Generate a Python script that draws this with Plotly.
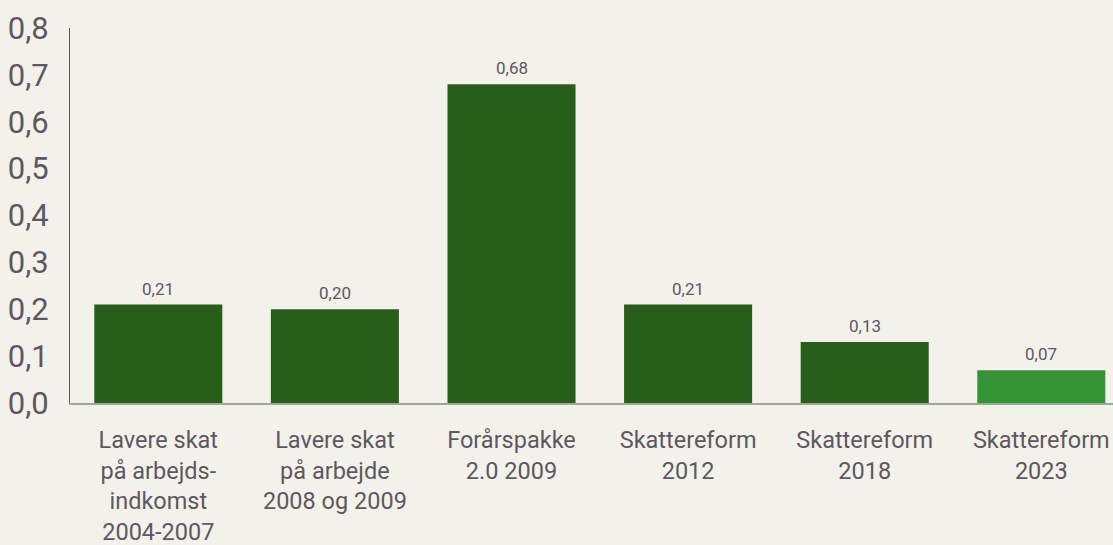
import plotly.graph_objects as go

categories = [
    "Lavere skat<br>på arbejds-<br>indkomst<br>2004-2007",
    "Lavere skat<br>på arbejde<br>2008 og 2009",
    "Forårspakke<br>2.0 2009",
    "Skattereform<br>2012",
    "Skattereform<br>2018",
    "Skattereform<br>2023",
]
values = [0.21, 0.20, 0.68, 0.21, 0.13, 0.07]
value_labels = ["0,21", "0,20", "0,68", "0,21", "0,13", "0,07"]
bar_colors = ["#275e1a", "#275e1a", "#275e1a", "#275e1a", "#275e1a", "#339433"]
y_ticks = [0, 0.1, 0.2, 0.3, 0.4, 0.5, 0.6, 0.7, 0.8]

text_color = "#5e5761"
font_family = "Roboto, DejaVu Sans, sans-serif"

fig = go.Figure()
fig.add_trace(go.Bar(
    x=list(range(len(categories))),
    y=values,
    marker=dict(color=bar_colors, line=dict(width=0)),
    hoverinfo="skip",
))

for i, (v, lab) in enumerate(zip(values, value_labels)):
    fig.add_annotation(
        x=i, y=v, text=lab, showarrow=False,
        yanchor="bottom", yshift=4,
        font=dict(size=17, color=text_color, family=font_family),
    )

fig.update_layout(
    width=1113, height=545,
    margin=dict(l=70, r=0, t=28, b=142, autoexpand=False),
    paper_bgcolor="#f3f2ea",
    plot_bgcolor="#f3f2ea",
    separators=",.",
    showlegend=False,
    bargap=0.275,
    font=dict(family=font_family, color=text_color),
)
fig.update_xaxes(
    tickmode="array",
    tickvals=list(range(len(categories))),
    ticktext=categories,
    range=[-0.5, 5.406],
    showline=True, linecolor="#a3a3a3", linewidth=1.5,
    showgrid=False, zeroline=False, ticks="",
    tickfont=dict(size=23.5, color=text_color, family=font_family),
    ticklabelstandoff=15,
    tickangle=0,
    automargin=False,
)
fig.update_yaxes(
    range=[0, 0.8],
    tickmode="array",
    tickvals=y_ticks,
    tickformat=".1f",
    showline=True, linecolor="#555555", linewidth=1,
    showgrid=False, zeroline=False, ticks="",
    tickfont=dict(size=31, color=text_color, family=font_family),
    ticklabelstandoff=14,
    automargin=False,
)

fig.write_html("out.html", config={"displayModeBar": False})

with open("out.html", "r", encoding="utf-8") as f:
    html = f.read()
html = html.replace("<head>", "<head><style>html,body{margin:0;padding:0;background:#f3f2ea;overflow:hidden;}</style>", 1)
with open("out.html", "w", encoding="utf-8") as f:
    f.write(html)
